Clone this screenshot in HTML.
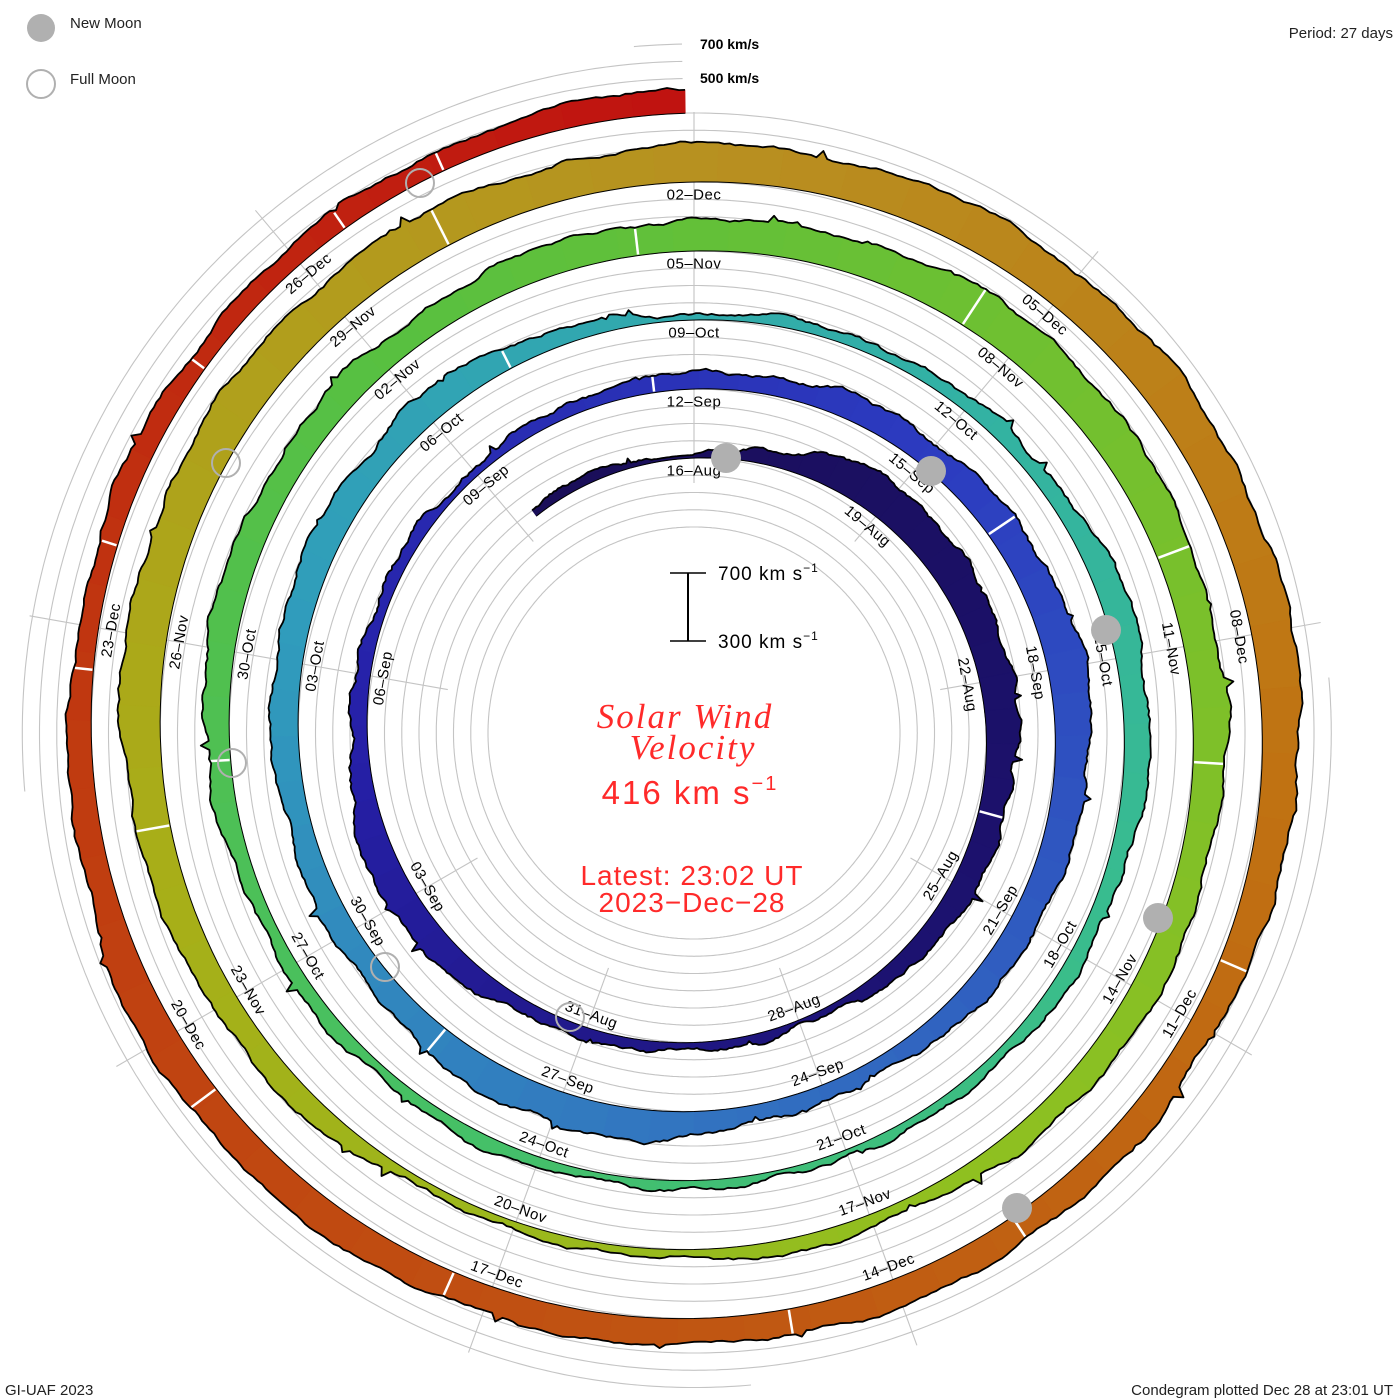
<!DOCTYPE html>
<html><head><meta charset="utf-8">
<style>
html,body{margin:0;padding:0;background:#fff;}
body{width:1400px;height:1400px;overflow:hidden;position:relative;font-family:"Liberation Sans",sans-serif;}
svg{position:absolute;left:0;top:0;}
</style></head>
<body>
<svg id="s" width="1400" height="1400" viewBox="0 0 1400 1400" xmlns="http://www.w3.org/2000/svg">
<g id="grid"></g>
<g id="bands"></g>
<g id="labels" font-family="Liberation Sans, sans-serif" font-size="15" fill="#000"></g>
<g id="moons"></g>
<circle cx="41" cy="28" r="14" fill="#b0b0b0"/>
<circle cx="41" cy="84" r="14" fill="none" stroke="#b0b0b0" stroke-width="2"/>
<text x="70" y="28" font-size="15" fill="#222">New Moon</text>
<text x="70" y="84" font-size="15" fill="#222">Full Moon</text>
<text x="1393" y="38" font-size="15" text-anchor="end" fill="#222">Period: 27 days</text>
<text x="700" y="49" font-size="14" font-weight="bold" fill="#000">700 km/s</text>
<text x="700" y="83" font-size="14" font-weight="bold" fill="#000">500 km/s</text>
<text x="5" y="1395" font-size="15" fill="#222">GI-UAF 2023</text>
<text x="1393" y="1395" font-size="15" text-anchor="end" fill="#222">Condegram plotted Dec 28 at 23:01 UT</text>
<line x1="688" y1="573" x2="688" y2="641" stroke="#000" stroke-width="2"/>
<line x1="670" y1="573" x2="706" y2="573" stroke="#000" stroke-width="1.5"/>
<line x1="670" y1="641" x2="706" y2="641" stroke="#000" stroke-width="1.5"/>
<text x="718" y="580" font-size="19" fill="#000" letter-spacing="1">700 km s<tspan dy="-8" font-size="12">−1</tspan></text>
<text x="718" y="648" font-size="19" fill="#000" letter-spacing="1">300 km s<tspan dy="-8" font-size="12">−1</tspan></text>
<g fill="#ff2a2a" text-anchor="middle">
<text x="685" y="728" font-family="Liberation Serif, serif" font-style="italic" font-size="35" letter-spacing="2">Solar Wind</text>
<text x="693" y="759" font-family="Liberation Serif, serif" font-style="italic" font-size="35" letter-spacing="2">Velocity</text>
<text x="690" y="804" font-size="33" letter-spacing="2">416 km s<tspan dy="-14" font-size="20">−1</tspan></text>
<text x="692" y="885" font-size="28" letter-spacing="1">Latest: 23:02 UT</text>
<text x="692" y="912" font-size="28" letter-spacing="1">2023−Dec−28</text>
</g>
</svg>
<script>
(function(){
var NS="http://www.w3.org/2000/svg";
var cx=694, cy=733, r0=275, S=69, P=27;
function th(d){return d/P*2*Math.PI;}
function base(d){return r0+S*d/P;}
function pt(d,r){var t=th(d);return [cx+r*Math.sin(t), cy-r*Math.cos(t)];}
function el(tag,attrs,parent){var e=document.createElementNS(NS,tag);for(var k in attrs)e.setAttribute(k,attrs[k]);parent.appendChild(e);return e;}
var dStart=-2.7, dEnd=134.95;
var grid=document.getElementById('grid');
function outerLimit(t){var frac=t/(2*Math.PI); var d=frac*P; while(d+P<=dEnd)d+=P; return base(d)+70;}
for(var R=206;R<=692;R+=17.25){
  var pts=[],segs=[];
  for(var a=0;a<=720;a++){
    var t=a/720*2*Math.PI;
    if(R<=outerLimit(t)){pts.push((cx+R*Math.sin(t)).toFixed(1)+','+(cy-R*Math.cos(t)).toFixed(1));}
    else{if(pts.length>1)segs.push(pts);pts=[];}
  }
  if(pts.length>1)segs.push(pts);
  segs.forEach(function(p){el('polyline',{points:p.join(' '),fill:'none',stroke:'#c4c4c4','stroke-width':1.1},grid);});
}
for(var k=0;k<9;k++){
  var t=k*40/180*Math.PI;var lim=outerLimit(t);
  el('line',{x1:cx+250*Math.sin(t),y1:cy-250*Math.cos(t),x2:cx+lim*Math.sin(t),y2:cy-lim*Math.cos(t),stroke:'#c4c4c4','stroke-width':1.1},grid);
}
var stops=[[-3,'#1a0e58'],[10,'#1c1270'],[20,'#2620a8'],[30,'#2c3cc0'],[40,'#3272c0'],[48,'#309cbc'],[56,'#32b0a6'],[62,'#38bc90'],[70,'#46c064'],[78,'#58c040'],[84,'#70c030'],[92,'#90c020'],[100,'#a8ae18'],[108,'#b89020'],[115,'#c07212'],[122,'#c05212'],[128,'#c03a10'],[135,'#c01010']];
function hex(h){return [parseInt(h.substr(1,2),16),parseInt(h.substr(3,2),16),parseInt(h.substr(5,2),16)];}
function col(d){for(var i=0;i<stops.length-1;i++){if(d<=stops[i+1][0]){var a=stops[i],b=stops[i+1];var f=(d-a[0])/(b[0]-a[0]);var A=hex(a[1]),B=hex(b[1]);return 'rgb('+[0,1,2].map(function(j){return Math.round(A[j]+(B[j]-A[j])*f);}).join(',')+')';}}return stops[stops.length-1][1];}
var kn={'-3':15,0:6,3:55,6:50,9:35,12:12,15:15,18:45,21:22,24:12,27:25,30:40,33:55,36:40,39:22,42:50,45:35,48:40,51:40,54:10,57:20,60:40,63:22,66:10,69:15,72:20,75:40,78:40,81:45,84:60,87:50,90:40,93:20,96:10,99:40,102:60,105:60,108:55,111:60,114:60,117:40,120:40,123:40,126:50,129:30,132:30,135:35};
var kd=Object.keys(kn).map(Number).sort(function(a,b){return a-b;});
function knot(d){for(var i=0;i<kd.length-1;i++){if(d<=kd[i+1]){var f=(d-kd[i])/(kd[i+1]-kd[i]);f=f*f*(3-2*f);return kn[kd[i]]+(kn[kd[i+1]]-kn[kd[i]])*f;}}return 30;}
var seed=12345;function rnd(){seed=(seed*1103515245+12345)&0x7fffffff;return seed/0x7fffffff;}
var step=0.04,N=Math.floor((dEnd-dStart)/step),H=[],D=[];
var walk=0;
for(var i=0;i<=N;i++){var d=dStart+i*step;walk=walk*0.8+(rnd()-0.5)*2.4;var h=0.68*knot(d)+walk+2*Math.sin(d*3.1)+1.5*Math.sin(d*7.7);
  if(rnd()<0.02)h+=(rnd()-0.3)*14; if(h<3)h=3; H.push(h);D.push(d);}
var bands=document.getElementById('bands');
var segLen=12;
for(var i=0;i<N;i+=segLen){
  var j=Math.min(i+segLen+1,N);var p=[];
  for(var k=i;k<=j;k++){var q=pt(D[k],base(D[k])+H[k]);p.push(q[0].toFixed(1)+','+q[1].toFixed(1));}
  for(var k=j;k>=i;k--){var q=pt(D[k],base(D[k]));p.push(q[0].toFixed(1)+','+q[1].toFixed(1));}
  el('polygon',{points:p.join(' '),fill:col(D[i]),stroke:col(D[i]),'stroke-width':0.6},bands);
}
var gaps=[7.9,26.5,31.2,43.5,52,74,80.5,83.5,86.2,88,100.5,106,116.5,119,120.8,123.3,125.5,128.7,129.6,131,132.4,133.2];
gaps.forEach(function(g){var idx=Math.round((g-dStart)/step);var hh=H[idx]||30;var a=pt(g,base(g)+1),b=pt(g,base(g)+hh-1);
  el('line',{x1:a[0],y1:a[1],x2:b[0],y2:b[1],stroke:'#fff','stroke-width':2.5},bands);});
var po=[],pb=[];
for(var k=0;k<=N;k++){var q=pt(D[k],base(D[k])+H[k]);po.push(q[0].toFixed(1)+','+q[1].toFixed(1));var b=pt(D[k],base(D[k]));if(k%3==0)pb.push(b[0].toFixed(1)+','+b[1].toFixed(1));}
el('polyline',{points:po.join(' '),fill:'none',stroke:'#000','stroke-width':1.8,'stroke-linejoin':'round'},bands);
el('polyline',{points:pb.join(' '),fill:'none',stroke:'#000','stroke-width':1},bands);
var labs=document.getElementById('labels');
var mon=['Jan','Feb','Mar','Apr','May','Jun','Jul','Aug','Sep','Oct','Nov','Dec'];
for(var d=0;d<=132;d+=3){
  var dt=new Date(Date.UTC(2023,7,16+d));
  var s=('0'+dt.getUTCDate()).slice(-2)+'\u2013'+mon[dt.getUTCMonth()];
  var q=pt(d,base(d)-13);
  var deg=(d/P*360)%360; var rot=(deg<=90||deg>=270)?deg:deg-180;
  var t=el('text',{x:q[0].toFixed(1),y:q[1].toFixed(1),'text-anchor':'middle','dominant-baseline':'central',transform:'rotate('+rot.toFixed(1)+' '+q[0].toFixed(1)+' '+q[1].toFixed(1)+')','letter-spacing':'0.5'},labs);
  t.textContent=s;
}
var mg=document.getElementById('moons');
[[726,458],[931,471],[1106,630],[1158,918],[1017,1208]].forEach(function(m){el('circle',{cx:m[0],cy:m[1],r:15,fill:'#b0b0b0'},mg);});
[[420,183],[226,463],[232,763],[385,967],[570,1017]].forEach(function(m){el('circle',{cx:m[0],cy:m[1],r:14,fill:'none',stroke:'#b0b0b0','stroke-width':2},mg);});
})();
</script>
</body></html>
